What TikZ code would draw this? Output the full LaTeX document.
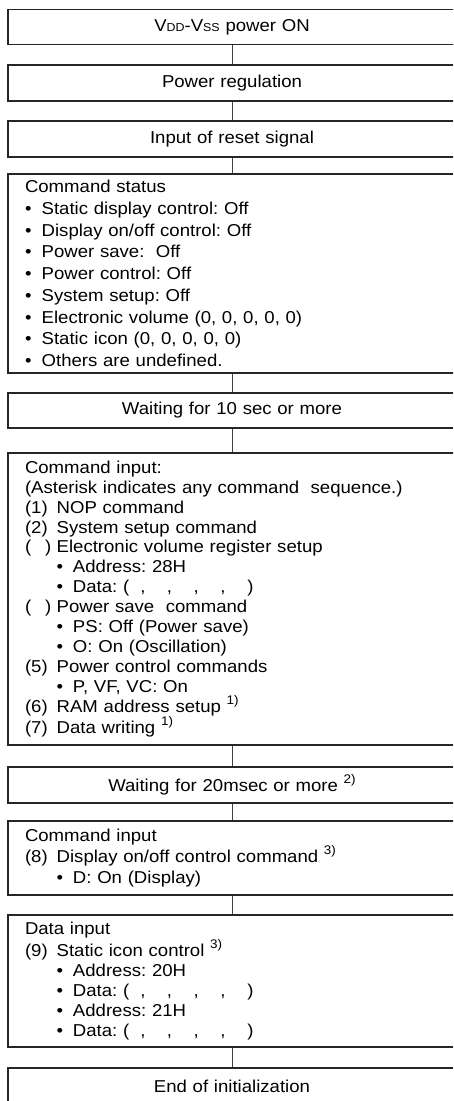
\documentclass[tikz,border=0pt]{standalone}
\usepackage{fontspec}
\setmainfont{Liberation Sans}[FakeStretch=1.08]
\frenchspacing
\newcommand\bul{\makebox[16.7pt][l]{\textbullet}}
\newcommand\subbul{\hspace*{31.7pt}\makebox[16.3pt][l]{\textbullet}}
\newcommand\nlab[1]{\makebox[31.7pt][l]{#1}}
\newcommand\emptylab{\makebox[31.7pt][l]{(\hspace{14pt})}}
\newcommand\fnote[1]{\raisebox{0.45em}{\fontsize{12.5}{13}\selectfont #1}}
\newcommand\smallsub[1]{{\fontsize{11.5}{12}\selectfont #1}}
\newcommand\blanks{(\hspace{11pt},\hspace{21.5pt},\hspace{21.5pt},\hspace{21.5pt},\hspace{22pt})}
\begin{document}
\begin{tikzpicture}[x=1pt,y=-1pt,
  boxc/.style={draw=black!85, line width=1.6pt, minimum width=448pt, text width=414pt,
    inner xsep=17pt, inner ysep=0pt, align=center, font=\fontsize{17.2}{20.5}\selectfont\frenchspacing},
  boxl/.style={boxc, align=left},
  link/.style={draw=black!75, line width=0.8pt}]
\useasboundingbox (0,0) rectangle (453,1101);
\clip (0,0) rectangle (453,1101);
\node[boxc, minimum height=35pt] (b1) at (232,27) {V\smallsub{DD}-V\smallsub{SS} power ON};
\node[boxc, minimum height=36pt] (b2) at (232,83) {Power regulation};
\node[boxc, minimum height=36pt] (b3) at (232,139) {Input of reset signal};
\node[boxl, minimum height=199pt, font=\fontsize{17.2}{21.7}\selectfont\frenchspacing] (b4) at (232,273.5) {Command status\\
\bul Static display control: Off\\
\bul Display on/off control: Off\\
\bul Power save:\ \ Off\\
\bul Power control: Off\\
\bul System setup: Off\\
\bul Electronic volume (0, 0, 0, 0, 0)\\
\bul Static icon (0, 0, 0, 0, 0)\\
\bul Others are undefined.};
\node[boxc, minimum height=35pt] (b5) at (232,410.5) {Waiting for 10 sec or more};
\node[boxl, minimum height=292pt, font=\fontsize{17.2}{19.9}\selectfont\frenchspacing] (b6) at (232,599) {Command input:\\
(Asterisk indicates any command\ \ sequence.)\\
\nlab{(1)}NOP command\\
\nlab{(2)}System setup command\\
\emptylab Electronic volume register setup\\
\subbul Address: 28H\\
\subbul Data: \blanks\\
\emptylab Power save\ \ command\\
\subbul PS: Off (Power save)\\
\subbul O: On (Oscillation)\\
\nlab{(5)}Power control commands\\
\subbul P, VF, VC: On\\
\nlab{(6)}RAM address setup \fnote{1)}\\
\nlab{(7)}Data writing \fnote{1)}};
\node[boxc, minimum height=36pt] (b7) at (232,785) {Waiting for 20msec or more \fnote{2)}};
\node[boxl, minimum height=74pt, font=\fontsize{17.2}{21}\selectfont\frenchspacing] (b8) at (232,858) {Command input\\
\nlab{(8)}Display on/off control command \fnote{3)}\\
\subbul D: On (Display)};
\node[boxl, minimum height=132pt, font=\fontsize{17.2}{20}\selectfont\frenchspacing] (b9) at (232,981) {Data input\\
\nlab{(9)}Static icon control \fnote{3)}\\
\subbul Address: 20H\\
\subbul Data: \blanks\\
\subbul Address: 21H\\
\subbul Data: \blanks};
\node[boxc, minimum height=36pt] (b10) at (232,1086) {End of initialization};
\foreach \a/\b in {b1/b2,b2/b3,b3/b4,b4/b5,b5/b6,b6/b7,b7/b8,b8/b9,b9/b10}
  \draw[link] (\a.south) -- (\b.north);
\end{tikzpicture}
\end{document}
